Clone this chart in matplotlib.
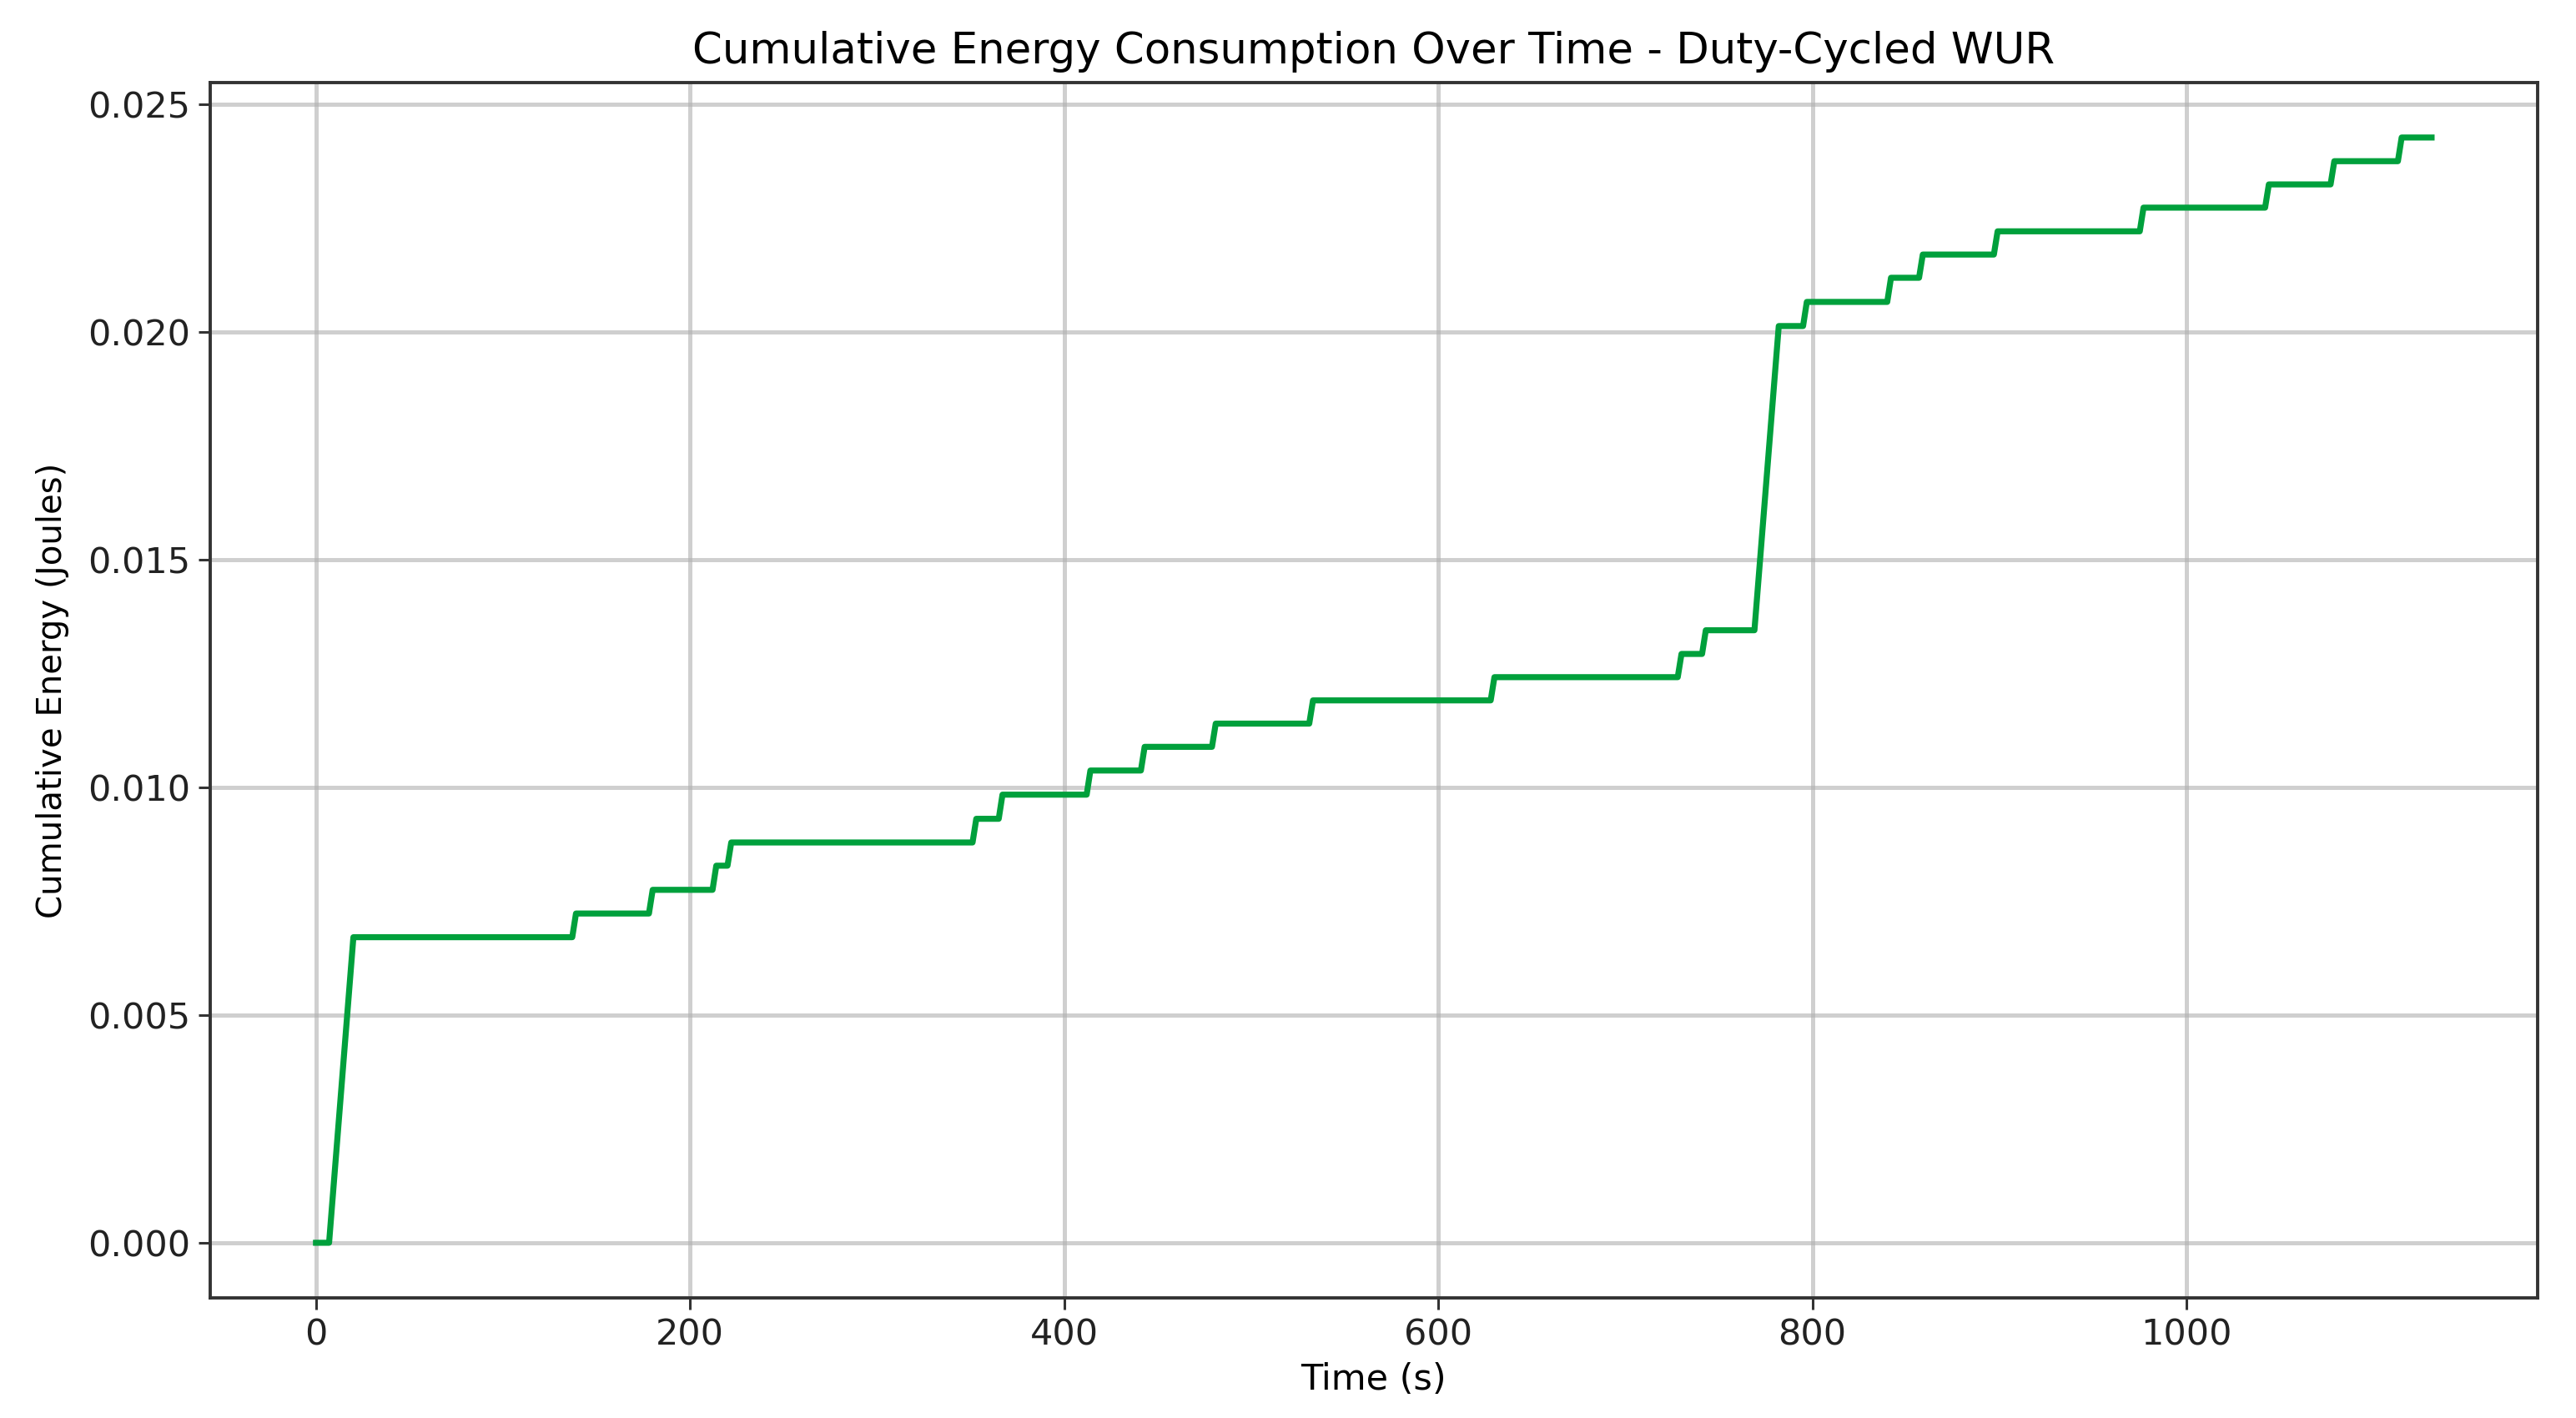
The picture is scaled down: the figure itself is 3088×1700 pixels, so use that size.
import matplotlib
matplotlib.use('Agg')
import matplotlib.pyplot as plt
import numpy as np

# each energy event: when it starts, when it ends, cumulative energy after it (J)
event_start = [7, 137, 178, 212, 220, 351, 365, 412, 441, 479, 531, 628,
               728, 741, 769, 795, 840, 857, 897, 975, 1042, 1077, 1113]
event_end = [20, 139, 180, 214, 222, 353, 367, 414, 443, 481, 533, 630,
             730, 743, 782, 797, 842, 859, 899, 977, 1044, 1079, 1115]
energy_after = [0.00671, 0.00723, 0.00775, 0.00828, 0.00879, 0.00931, 0.00984,
                0.01037, 0.01089, 0.01140, 0.01191, 0.01242, 0.01293, 0.01345,
                0.02013, 0.02066, 0.02119, 0.02170, 0.02221, 0.02273, 0.02324,
                0.02375, 0.02427]
t_end = 1131

# build the cumulative curve from the events
t = [0]
e = [0.0]
for s, f, lvl in zip(event_start, event_end, energy_after):
    t += [s, f]
    e += [e[-1], lvl]
t.append(t_end)
e.append(e[-1])

fig = plt.figure(figsize=(15.44, 8.5), dpi=200)
ax = fig.add_axes([0.0816, 0.0846, 0.9034, 0.8574])

ax.plot(t, e, color='#00a03c', linewidth=2.6)

ax.set_title('Cumulative Energy Consumption Over Time - Duty-Cycled WUR',
             fontsize=18.5, pad=8)
ax.set_xlabel('Time (s)', fontsize=15.5, labelpad=4)
ax.set_ylabel('Cumulative Energy (Joules)', fontsize=14.5, labelpad=8)
ax.tick_params(labelsize=15.5, length=5, width=1.1, colors='#333333',
               labelcolor='#222222')
ax.set_yticks(np.arange(0, 0.0251, 0.005))
ax.yaxis.set_major_formatter(matplotlib.ticker.FormatStrFormatter('%.3f'))
ax.grid(True, color='#b0b0b0', alpha=0.6, linewidth=1.8)
for sp in ax.spines.values():
    sp.set_linewidth(1.4)
    sp.set_color('#333333')

fig.savefig('out.png', dpi=200)
